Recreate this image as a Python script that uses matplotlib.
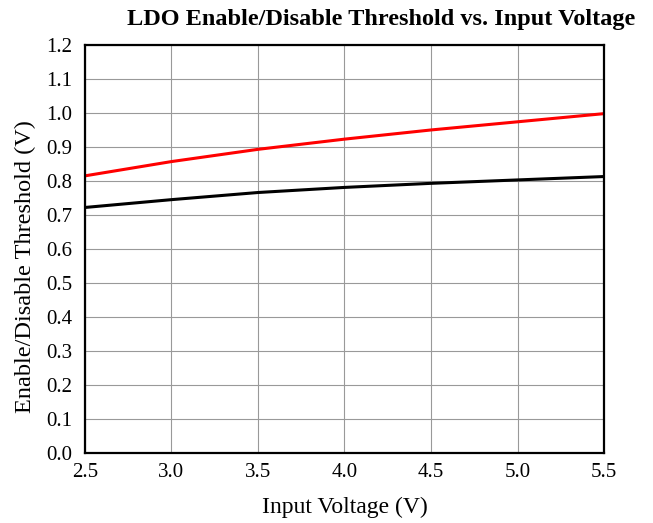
import numpy as np
import matplotlib
matplotlib.use('Agg')
import matplotlib.pyplot as plt

# values
vin = [2.5, 3.0, 3.5, 4.0, 4.5, 5.0, 5.5]
enable_th = [0.815, 0.857, 0.893, 0.923, 0.950, 0.974, 0.998]
disable_th = [0.722, 0.745, 0.766, 0.781, 0.793, 0.803, 0.813]

xticks = [2.5, 3.0, 3.5, 4.0, 4.5, 5.0, 5.5]
yticks = np.round(np.arange(0, 1.21, 0.1), 1)

plt.rcParams['font.family'] = ['Liberation Serif', 'DejaVu Serif']

fig = plt.figure(figsize=(6.53, 5.23), dpi=100)
ax = fig.add_axes([0.130, 0.134, 0.795, 0.780])

ax.plot(vin, enable_th, color='#ff0000', lw=2.2)
ax.plot(vin, disable_th, color='black', lw=2.2)

ax.set_xlim(2.5, 5.5)
ax.set_ylim(0, 1.2)
ax.set_xticks(xticks)
ax.set_xticklabels([f'{v:.1f}' for v in xticks])
ax.set_yticks(yticks)
ax.set_yticklabels([f'{v:.1f}' for v in yticks])
ax.tick_params(length=0, labelsize=15)
ax.tick_params(axis='y', pad=9)
ax.tick_params(axis='x', pad=7)
ax.grid(True, color='#999999', lw=0.8)
for side in ['left', 'bottom', 'right', 'top']:
    ax.spines[side].set_linewidth(1.6)

ax.set_xlabel('Input Voltage (V)', fontsize=17)
ax.xaxis.set_label_coords(0.5, -0.107)
ax.xaxis.label.set_va('top')
ax.set_ylabel('Enable/Disable Threshold (V)', fontsize=17.5)
ax.yaxis.set_label_coords(-0.094, 0.456)

fig.text(0.584, 0.962, 'LDO Enable/Disable Threshold vs. Input Voltage',
         ha='center', va='center', fontsize=17.5, fontweight='bold')

fig.savefig('out.png', dpi=100)
